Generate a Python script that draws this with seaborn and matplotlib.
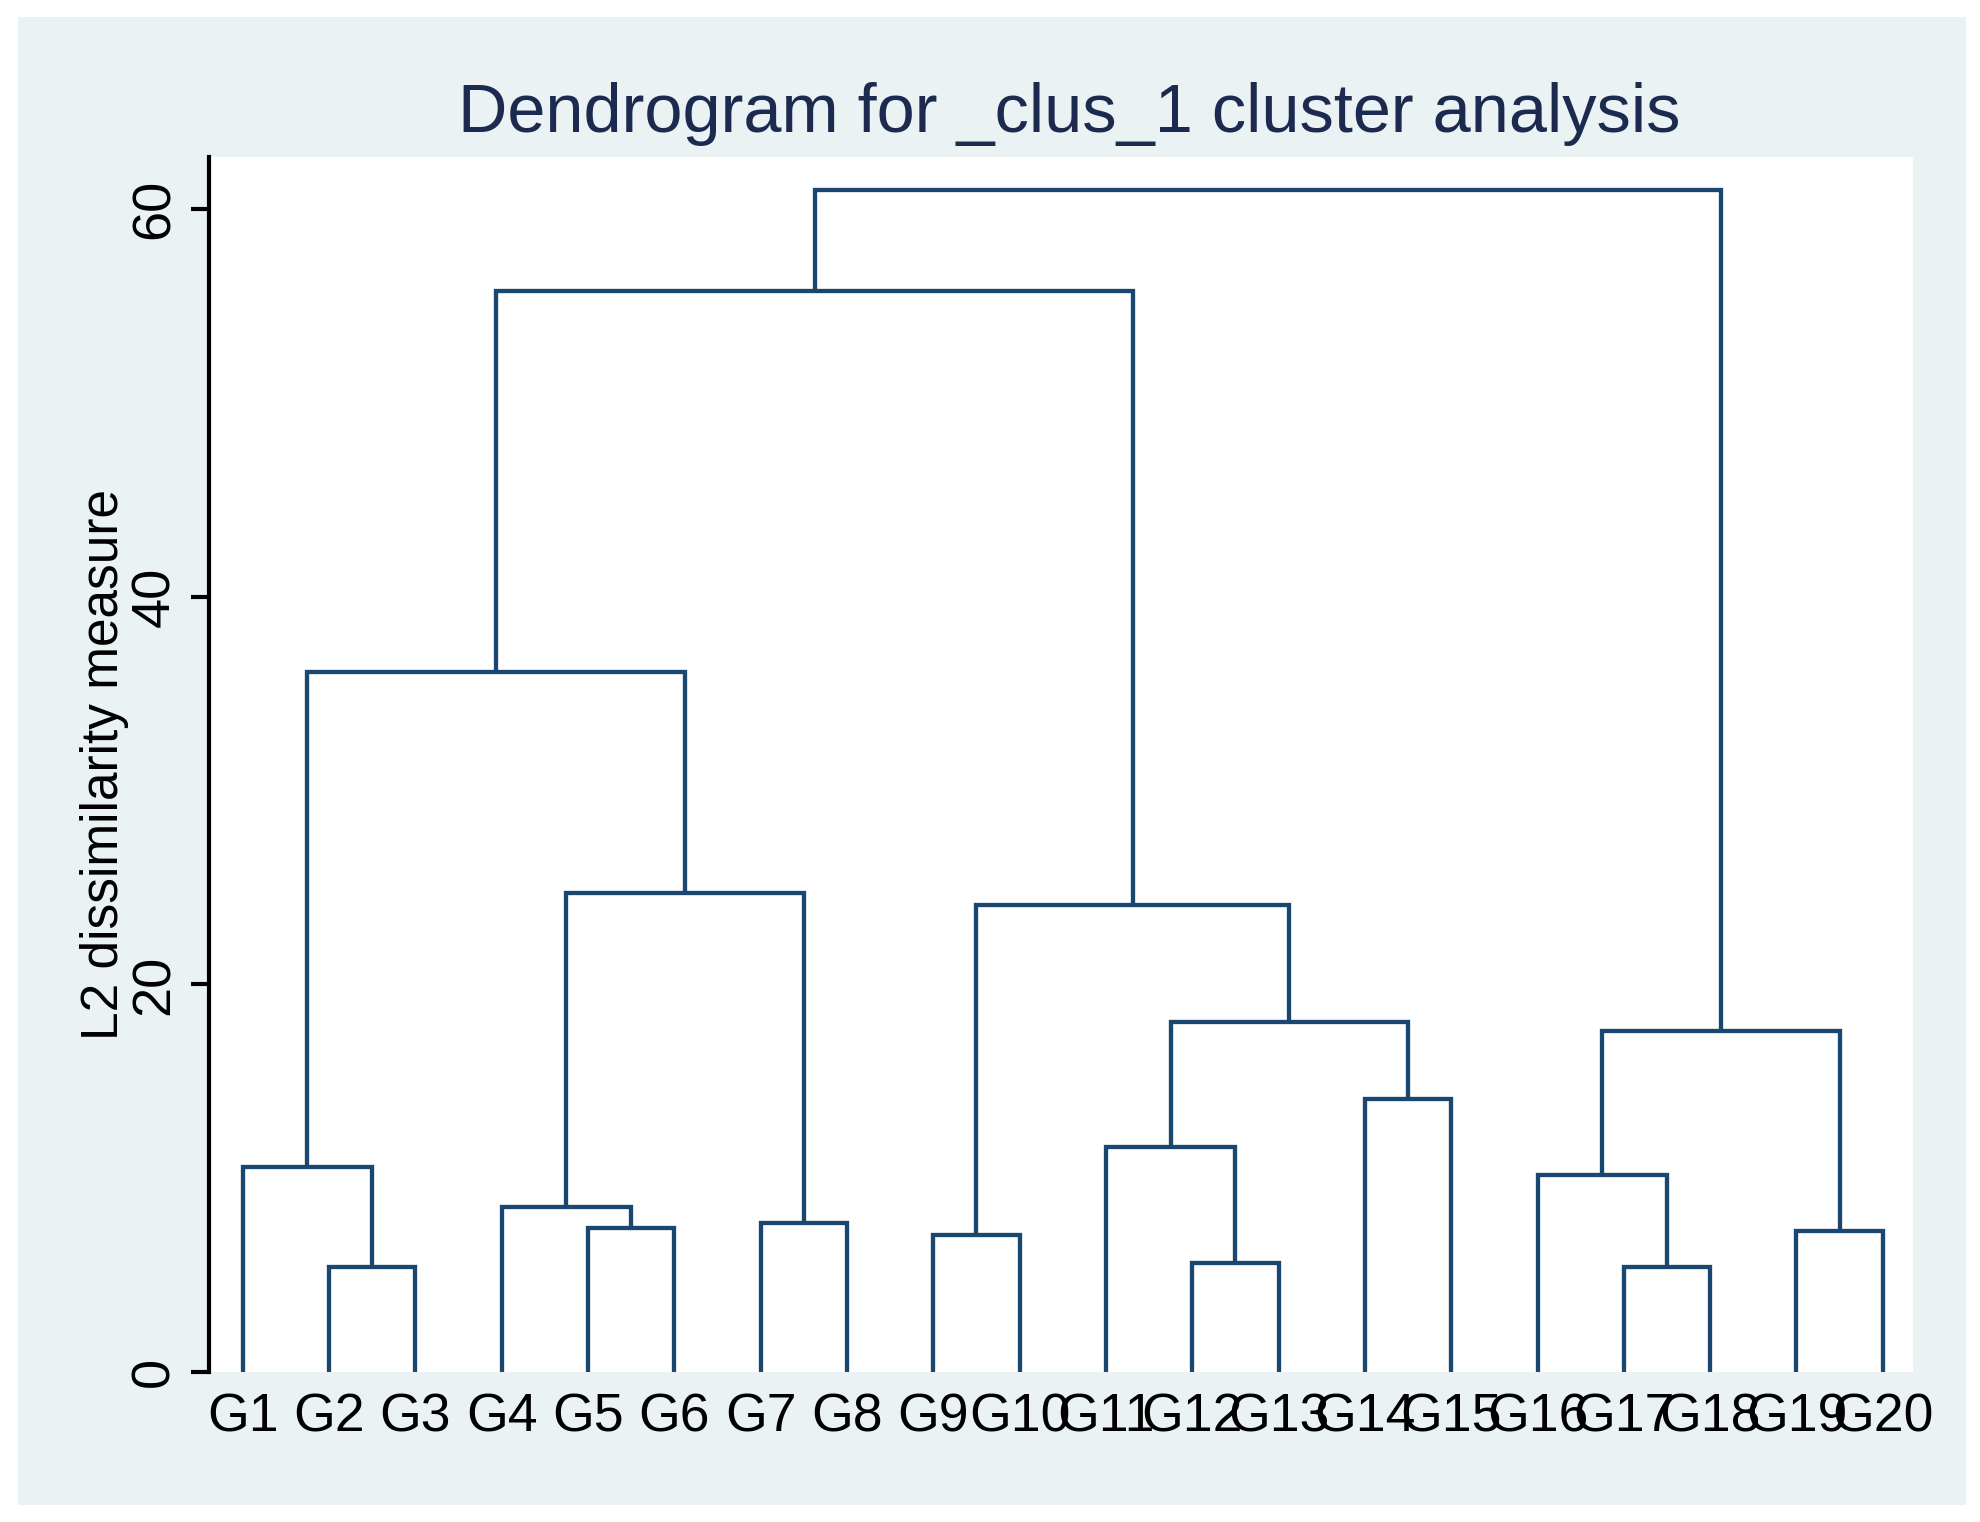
import pandas as pd
import matplotlib.pyplot as plt
import seaborn as sns
from matplotlib.patches import Rectangle

# leaves in the order they sit on the x axis
leaf_labels = [f"G{i}" for i in range(1, 21)]

# merge table: ids 0-19 are the leaves, merge k creates cluster 20 + k
left_child = [1, 0, 4, 3, 6, 23, 21, 8, 11, 10, 13, 29, 27, 26, 16, 15, 18, 35, 33]
right_child = [2, 20, 5, 22, 7, 24, 25, 9, 12, 28, 14, 30, 31, 32, 17, 34, 19, 36, 37]
merge_height = [5.42, 10.58, 7.45, 8.52, 7.67, 24.7, 36.1, 7.05, 5.6, 11.6,
                14.07, 18.06, 24.08, 55.76, 5.42, 10.15, 7.3, 17.6, 61.0]

y_ticks = [0, 20, 40, 60]

NAVY = "#1A476F"
PANEL = "#EAF2F3"
TITLE_COLOR = "#1C2A50"


def build_links():
    pos = [float(i + 1) for i in range(len(leaf_labels))]
    height = [0.0] * len(leaf_labels)
    rows = []
    for k, (l, r, h) in enumerate(zip(left_child, right_child, merge_height)):
        xl, xr = pos[l], pos[r]
        for x, y in [(xl, height[l]), (xl, h), (xr, h), (xr, height[r])]:
            rows.append({"link": k, "x": x, "y": y})
        pos.append((xl + xr) / 2)
        height.append(h)
    return pd.DataFrame(rows)


sns.set_theme(style="white")
plt.rcParams["font.family"] = ["Liberation Sans", "DejaVu Sans"]

links = build_links()

fig = plt.figure(figsize=(19.8, 15.22), dpi=100, facecolor="white")
fig.add_artist(Rectangle((18 / 1980, 17 / 1522), 1948 / 1980, 1488 / 1522,
                         transform=fig.transFigure, facecolor=PANEL,
                         edgecolor="none", zorder=-1))

ax = fig.add_axes([0.10556, 0.09855, 0.86061, 0.79829])
ax.set_facecolor("white")

sns.lineplot(data=links, x="x", y="y", units="link", estimator=None,
             sort=False, color=NAVY, linewidth=3.1, ax=ax,
             solid_joinstyle="miter", solid_capstyle="butt")

ax.set_xlim(0.61, 20.35)
ax.set_ylim(0, 62.7)
ax.set_xticks(range(1, len(leaf_labels) + 1))
ax.set_xticklabels(leaf_labels)
ax.set_yticks(y_ticks)
ax.set_yticklabels([str(t) for t in y_ticks])

for side in ["top", "right", "bottom"]:
    ax.spines[side].set_visible(False)
ax.spines["left"].set_color("black")
ax.spines["left"].set_linewidth(3.0)

ax.tick_params(axis="x", length=0, pad=15, labelsize=38.5, labelcolor="black")
ax.tick_params(axis="y", length=13, width=3.0, color="black", direction="out",
               pad=8, labelsize=39, labelcolor="black", left=True)
for lab in ax.get_yticklabels():
    lab.set_rotation(90)
    lab.set_va("center")

ax.set_xlabel("")
ax.set_ylabel("L2 dissimilarity measure", fontsize=37, color="black")
ax.yaxis.set_label_coords(-0.047, 0.5)

fig.text(0.540, 1 - 131.7 / 1522, "Dendrogram for _clus_1 cluster analysis",
         ha="center", va="baseline", fontsize=49.3, color=TITLE_COLOR)

fig.savefig("out.png", dpi=100)
